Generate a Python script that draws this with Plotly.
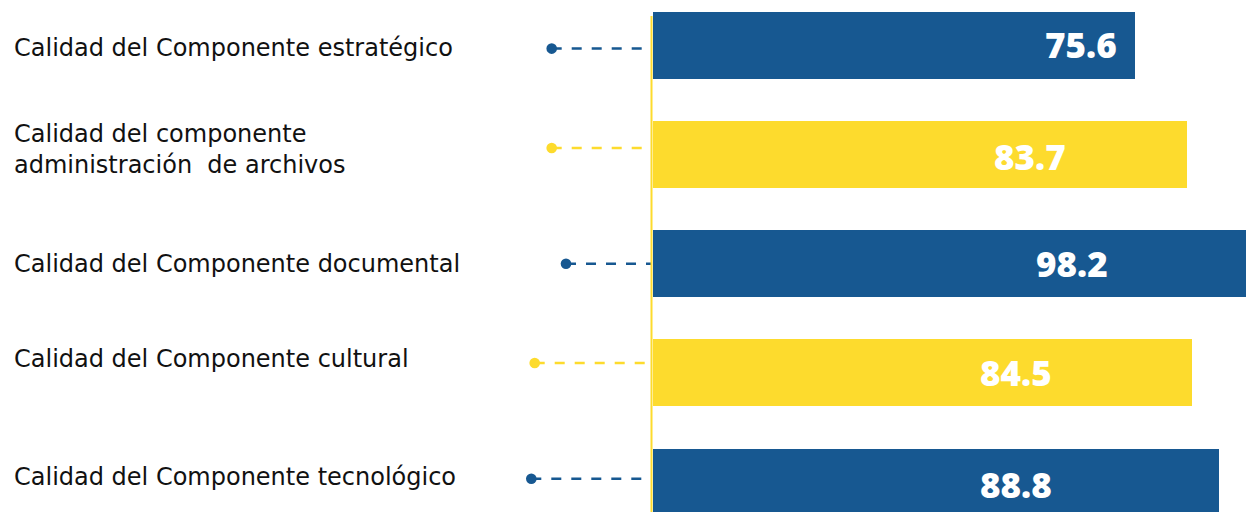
import plotly.graph_objects as go

# ---- data ----
categories = [
    "Calidad del Componente estratégico",
    "Calidad del componente<br>administración  de archivos",
    "Calidad del Componente documental",
    "Calidad del Componente cultural",
    "Calidad del Componente tecnológico",
]
values = [75.6, 83.7, 98.2, 84.5, 88.8]
value_labels = ["75.6", "83.7", "98.2", "84.5", "88.8"]

# ---- styles ----
BLUE = "#175891"
YELLOW = "#FDDB2D"
bar_colors = [BLUE, YELLOW, BLUE, YELLOW, BLUE]
W, H = 1246, 512
x_domain_start = 652.5 / W
x_max = 93.07
y_range = [4.274, -0.415]
bar_width = 0.614

label_yshift = [-3, 4.7, 0, 13.9, 4.8]
value_xshift = [390.5, 339.5, 381.5, 325.5, 325.5]   # pixel offset of value text from bar base
value_yshift = [1, -1.5, 0, 0, -2]
dot_px = [551.7, 551.7, 566.0, 534.7, 531.3]
conn_dy = [0.03, -0.06, 0.0, -0.09, -0.03]

pos = list(range(len(categories)))

fig = go.Figure()
fig.add_trace(go.Bar(
    x=values, y=pos, orientation="h", width=bar_width,
    marker=dict(color=bar_colors, line=dict(width=0)),
    hoverinfo="skip", showlegend=False,
))

shapes = []
annotations = []
for i, p in enumerate(pos):
    c = bar_colors[i]
    yy = p + conn_dy[i]
    shapes.append(dict(type="line", xref="paper", yref="y",
                       x0=dot_px[i] / W, x1=652 / W, y0=yy, y1=yy,
                       line=dict(color=c, width=2.5, dash="10px,10px"), layer="above"))
    shapes.append(dict(type="circle", xref="paper", yref="y",
                       xsizemode="pixel", ysizemode="pixel",
                       xanchor=dot_px[i] / W, yanchor=yy,
                       x0=-5.3, x1=5.3, y0=-5.3, y1=5.3,
                       fillcolor=c, line=dict(width=0), layer="above"))
    annotations.append(dict(xref="paper", yref="y", x=12 / W, y=p, xanchor="left", yanchor="middle",
                            yshift=label_yshift[i], text=categories[i], showarrow=False, align="left",
                            font=dict(family="DejaVu Sans", size=24, color="#111111")))
    annotations.append(dict(xref="x", yref="y", x=0, y=p, xanchor="left", yanchor="middle",
                            xshift=value_xshift[i], yshift=value_yshift[i], text=value_labels[i],
                            showarrow=False,
                            font=dict(family="Open Sans", size=35, color="white", weight=800)))
# vertical baseline (drawn just left of the bar base)
shapes.append(dict(type="line", xref="paper", yref="paper", x0=651.5 / W, x1=651.5 / W,
                   y0=0, y1=(H - 16) / H, line=dict(color=YELLOW, width=2), layer="above"))

fig.update_layout(
    width=W, height=H,
    margin=dict(l=0, r=0, t=0, b=0),
    paper_bgcolor="white", plot_bgcolor="white",
    xaxis=dict(domain=[x_domain_start, 1], range=[0, x_max], visible=False, fixedrange=True),
    yaxis=dict(range=y_range, visible=False, fixedrange=True),
    shapes=shapes, annotations=annotations,
    bargap=0,
)

fig.write_html("out.html", config={"displayModeBar": False},
               post_script="document.body.style.margin='0';document.body.style.overflow='hidden';")
